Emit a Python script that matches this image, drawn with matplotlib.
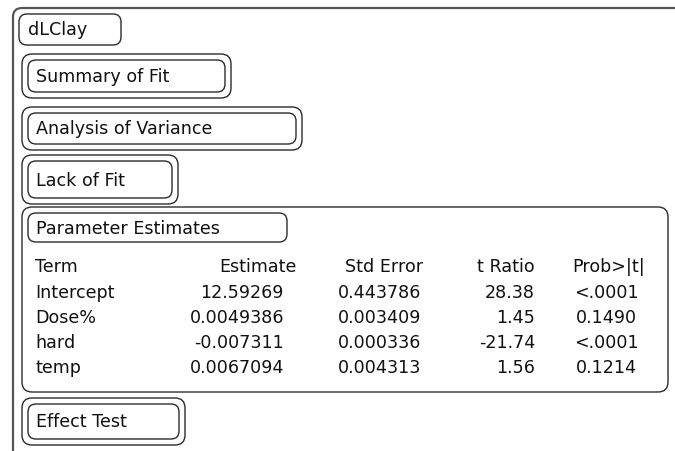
import matplotlib
matplotlib.use("Agg")
import matplotlib.pyplot as plt
from matplotlib.patches import FancyBboxPatch

# ---- data ----
response = "dLClay"
collapsed_sections = ["Summary of Fit", "Analysis of Variance", "Lack of Fit"]
open_section = "Parameter Estimates"
last_section = "Effect Test"
columns = ["Term", "Estimate", "Std Error", "t Ratio", "Prob>|t|"]
terms = ["Intercept", "Dose%", "hard", "temp"]
estimates = ["12.59269", "0.0049386", "-0.007311", "0.0067094"]
std_errors = ["0.443786", "0.003409", "0.000336", "0.004313"]
t_ratios = ["28.38", "1.45", "-21.74", "1.56"]
probs = ["<.0001", "0.1490", "<.0001", "0.1214"]

W, H = 675, 451
fig = plt.figure(figsize=(W / 100, H / 100), dpi=100)
ax = fig.add_axes([0, 0, 1, 1])
ax.set_xlim(0, W)
ax.set_ylim(H, 0)
ax.axis("off")

FONT = "DejaVu Sans"
FS = 12.6
EC = "#2b2b2b"


def rbox(x0, y0, x1, y1, r=8, lw=1.0, ec=EC):
    p = FancyBboxPatch((x0, y0), x1 - x0, y1 - y0,
                       boxstyle=f"round,pad=0,rounding_size={r}",
                       fc="none", ec=ec, lw=lw, clip_on=False)
    ax.add_patch(p)


def put(x, y, s, ha="left"):
    ax.text(x, y, s, ha=ha, va="center", fontsize=FS, family=FONT, color="#111111")


# outer frame (extends beyond the image to the right and bottom)
rbox(13, 8, 720, 462, r=9, lw=1.6, ec="#555555")

# response header box
rbox(19, 14, 121, 45, r=8)
put(28, 30, response)

# collapsed sections
sec_y = [(54, 98), (107, 150), (155, 204)]
sec_right = [231, 302, 178]
for name, (y0, y1), xr in zip(collapsed_sections, sec_y, sec_right):
    rbox(22, y0, xr, y1, r=10)
    rbox(28, y0 + 6, xr - 6, y1 - 6, r=8)
    put(36, (y0 + y1) / 2 + 1, name)

# parameter estimates section
rbox(22, 207, 668, 392, r=10)
rbox(28, 213, 287, 242, r=8)
put(36, 229, open_section)

header_y = 267
row_y0, row_dy = 293, 25
put(35, header_y, columns[0])
put(297, header_y, columns[1], "right")
put(423, header_y, columns[2], "right")
put(535, header_y, columns[3], "right")
put(609, header_y, columns[4], "center")
for i, (t, e, se, tr, p) in enumerate(zip(terms, estimates, std_errors, t_ratios, probs)):
    y = row_y0 + i * row_dy
    put(35, y, t)
    put(284, y, e, "right")
    put(421, y, se, "right")
    put(535, y, tr, "right")
    put(606, y, p, "center")

# effect test section
rbox(22, 398, 185, 445, r=10)
rbox(28, 404, 179, 439, r=8)
put(36, 422, last_section)

fig.savefig("out.png", dpi=100)
